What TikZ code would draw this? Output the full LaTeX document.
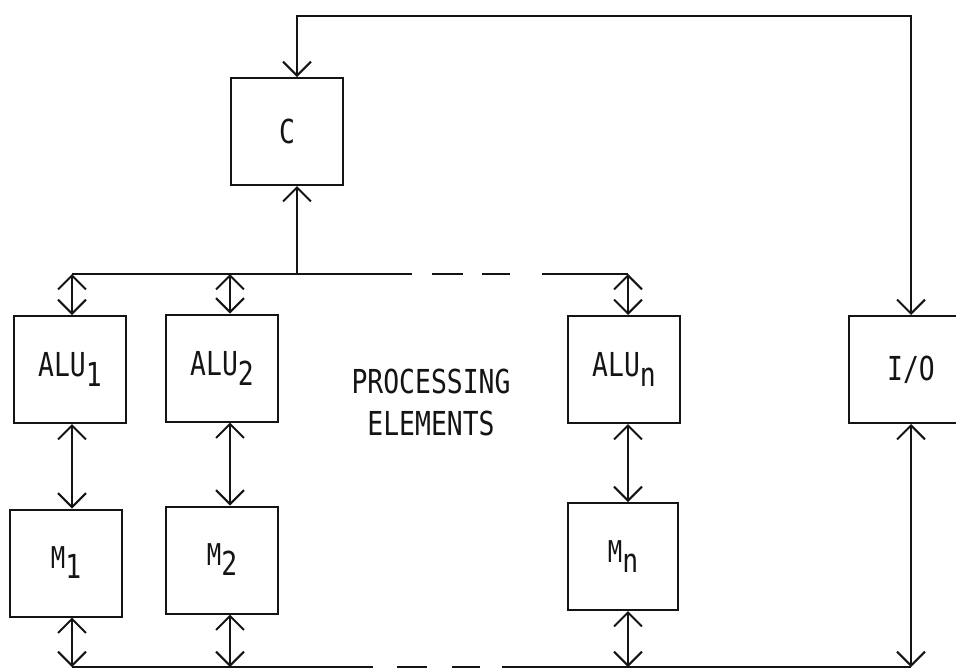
\documentclass[tikz,border=0pt]{standalone}
\usepackage{fontspec}
\newfontfamily\typefont[FakeStretch=0.8]{DejaVu Sans Mono}
\definecolor{ink}{HTML}{141414}
\usetikzlibrary{arrows.meta}
\newcommand\lowidx[1]{\raisebox{-5pt}{#1}}
\newcommand\memlbl[1]{{\fontsize{15}{18}\selectfont M}\lowidx{#1}}

\begin{document}
\begin{tikzpicture}[x=0.5pt,y=-0.5pt,
  unit/.style={draw=ink,line width=1pt,minimum width=56pt,minimum height=53.5pt,
    inner sep=0pt,text=ink,font=\typefont\fontsize{16.5}{20}\selectfont},
  caption/.style={align=center,text=ink,font=\typefont\fontsize{16.5}{21}\selectfont},
  link/.style={{Straight Barb[length=7pt,width=14pt]}-{Straight Barb[length=7pt,width=14pt]},
    line width=1pt,ink},
  feed/.style={{Straight Barb[length=7pt,width=14pt]}-,line width=1pt,ink},
  bus/.style={line width=1pt,ink}]
  \useasboundingbox (0,0) rectangle (956,671);
  \clip (0,0) rectangle (956,671);
  % boxes
  \node[unit] (c)  at (287,131.5) {\raisebox{-4pt}{C}};
  \node[unit] (a1) at (70,369.5)  {ALU\lowidx{1}};
  \node[unit] (a2) at (222,368)   {ALU\lowidx{2}};
  \node[unit] (an) at (624,369.5) {ALU\lowidx{n}};
  \node[unit] (m1) at (66,563)    {\memlbl{1}};
  \node[unit] (m2) at (222,560)   {\memlbl{2}};
  \node[unit,minimum width=55pt] (mn) at (623,556.5) {\memlbl{n}};
  \node[unit,minimum width=62pt] (io) at (911,369.5) {I/O};
  \node[caption] (pe) at (431,402) {PROCESSING\\ELEMENTS};
  % levels and columns
  \coordinate (tl) at (0,16);
  \coordinate (tb) at (0,274);
  \coordinate (bb) at (0,667);
  \coordinate (kc) at (297,0);
  \coordinate (k1) at (72,0);
  \coordinate (k2) at (230,0);
  \coordinate (kn) at (628,0);
  \coordinate (ki) at (911,0);
  % control line
  \draw[link] (c.north -| kc) |- (tl -| ki) -- (io.north -| ki);
  \draw[feed] (c.south -| kc) -- (tb -| kc);
  % buses
  \draw[bus,dash pattern=on 170pt off 10pt on 15.5pt off 9.5pt on 14pt off 16pt on 200pt]
    (tb -| k1) -- (tb -| kn);
  \draw[bus,dash pattern=on 150.5pt off 12pt on 15pt off 12.5pt on 14pt off 11pt on 500pt]
    (bb -| k1) -- (bb -| ki);
  % processing elements
  \draw[link] (tb -| k1) -- (a1.north -| k1);
  \draw[link] (tb -| k2) -- (a2.north -| k2);
  \draw[link] (tb -| kn) -- (an.north -| kn);
  \draw[link] (a1.south -| k1) -- (m1.north -| k1);
  \draw[link] (a2.south -| k2) -- (m2.north -| k2);
  \draw[link] (an.south -| kn) -- (mn.north -| kn);
  \draw[link] (m1.south -| k1) -- (bb -| k1);
  \draw[link] (m2.south -| k2) -- (bb -| k2);
  \draw[link] (mn.south -| kn) -- (bb -| kn);
  \draw[link] (io.south -| ki) -- (bb -| ki);
\end{tikzpicture}
\end{document}
